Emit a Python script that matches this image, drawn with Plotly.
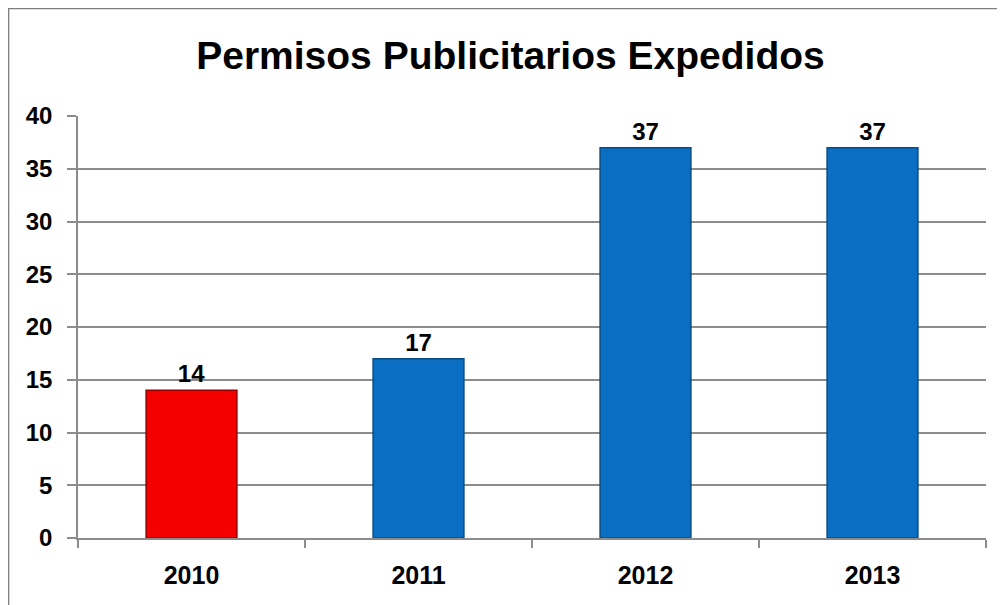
import plotly.graph_objects as go

years = ["2010", "2011", "2012", "2013"]
values = [14, 17, 37, 37]
colors = ["#F50000", "#0A6EC2", "#0A6EC2", "#0A6EC2"]
edge_colors = ["#9A0000", "#084C86", "#084C86", "#084C86"]
y_ticks = [0, 5, 10, 15, 20, 25, 30, 35, 40]

FONT = "Liberation Sans Narrow, Arial Narrow, Liberation Sans, Arial, sans-serif"

fig = go.Figure()
fig.add_trace(go.Bar(
    x=years, y=values,
    marker=dict(color=colors, line=dict(color=edge_colors, width=1.5)),
    width=0.4,
    text=[str(v) for v in values],
    textposition="outside",
    textfont=dict(family=FONT, size=24, color="black", weight="bold"),
    cliponaxis=False,
))

fig.update_layout(
    width=1005, height=605,
    margin=dict(l=70, r=27, t=108, b=75),
    paper_bgcolor="white", plot_bgcolor="white",
    showlegend=False,
    bargap=0.6,
    title=dict(text="<b>Permisos Publicitarios Expedidos</b>",
               x=0.5, xanchor="center", y=0.922, yanchor="middle",
               font=dict(family=FONT, size=39, color="black")),
    xaxis=dict(
        type="category", tickson="boundaries", ticks="outside", ticklen=8,
        tickcolor="#8C8C8C", tickwidth=1.5,
        showline=True, linecolor="#8C8C8C", linewidth=1.5,
        showgrid=False, ticklabelstandoff=14,
        tickfont=dict(family=FONT, size=25, color="black", weight="bold"),
    ),
    yaxis=dict(
        range=[0, 40], tickvals=y_ticks, ticks="outside", ticklen=9,
        tickcolor="#8C8C8C", tickwidth=1.5,
        showline=True, linecolor="#8C8C8C", linewidth=1.5,
        showgrid=True, gridcolor="#8C8C8C", gridwidth=1.5,
        zeroline=False, ticklabelstandoff=10,
        tickfont=dict(family=FONT, size=24, color="black", weight="bold"),
    ),
    shapes=[dict(type="rect", xref="paper", yref="paper",
                 x0=-0.077, x1=1.2, y0=-0.3, y1=1.256,
                 line=dict(color="#808080", width=2.5), fillcolor="rgba(0,0,0,0)",
                 layer="below")],
)

fig.write_html("out.html")
